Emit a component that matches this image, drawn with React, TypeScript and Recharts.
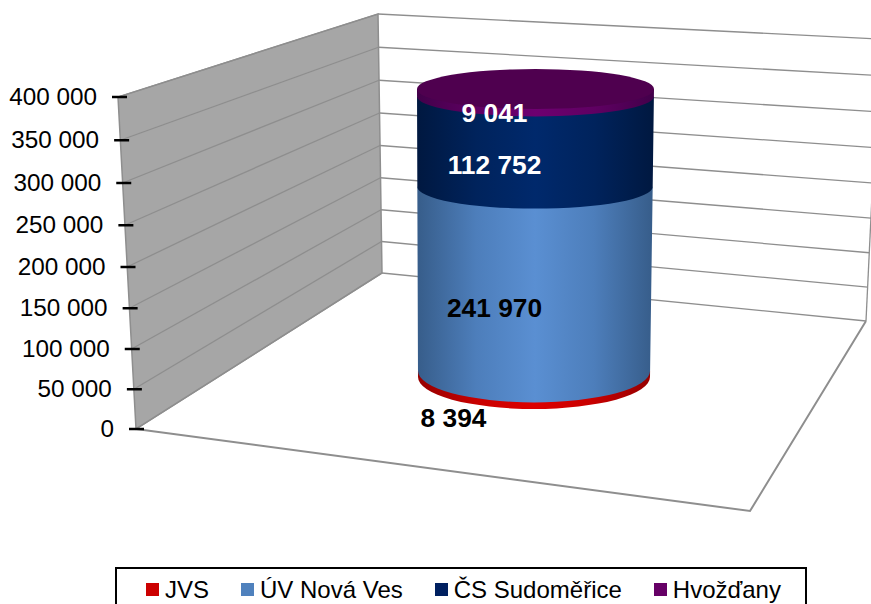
import React from "react";
import { BarChart, Bar, XAxis, YAxis, Legend, LabelList, Customized } from "recharts";

const categories = ["Celkem"];
const seriesNames = ["JVS", "ÚV Nová Ves", "ČS Sudoměřice", "Hvožďany"];
const seriesValues = [8394, 241970, 112752, 9041];
const legendColors = ["#CC0000", "#4F81BD", "#002060", "#660066"];
const edgeColors = ["#960000", "#375D8A", "#001840", "#42004A"];
const shoulderColors = ["#C80000", "#4D7EBB", "#00235C", "#5F0062"];
const centerColors = ["#DC0000", "#5A8FD2", "#00296C", "#6E0070"];
const axisTicks = [0, 50000, 100000, 150000, 200000, 250000, 300000, 350000, 400000];

const row: Record<string, string | number> = { name: categories[0] };
seriesNames.forEach((s, i) => {
  row[s] = seriesValues[i];
});
const data = [row];

const WIDTH = 871;
const HEIGHT = 604;
const PLOT_BOTTOM = 429;
const AXIS_TOP = 97; // where 400 000 sits
const AXIS_MAX = 400000;
const PLOT_MAX = 450000;
const PLOT_TOP = PLOT_BOTTOM - ((PLOT_BOTTOM - AXIS_TOP) * PLOT_MAX) / AXIS_MAX;

// the cylinder is further back than the axis, so it gets its own hidden scale
const CYL_BASE = 377;
const CYL_TOP = 89;
const total = seriesValues.reduce((a, b) => a + b, 0);
const cylPxPerUnit = (CYL_BASE - CYL_TOP) / total;
const cylMin = -(PLOT_BOTTOM - CYL_BASE) / cylPxPerUnit;
const cylMax = (CYL_BASE - PLOT_TOP) / cylPxPerUnit;

const fmt = (v: number) => String(v).replace(/\B(?=(\d{3})+$)/g, " ");
const FONT = "Liberation Sans, Arial, sans-serif";
const GRID = "#8E8E8E";

// perspective bow of a vertical scale
const bow = (t: number, k: number) => k * t * (1 - t);

function AxisTick(props: any) {
  const t = props.payload.value / AXIS_MAX;
  const y = props.y + bow(t, 16);
  const left = 129 - 17 * t;
  return (
    <g>
      <line x1={left} x2={left + 15} y1={y} y2={y} stroke="#000" strokeWidth={2.5} />
      <text x={left - 15} y={y + 8} textAnchor="end" fontFamily={FONT} fontSize={24.3} fill="#000">
        {fmt(props.payload.value)}
      </text>
    </g>
  );
}

function Walls() {
  const sideY = (t: number) => PLOT_BOTTOM - (PLOT_BOTTOM - AXIS_TOP) * t + bow(t, 16);
  const sideX = (t: number) => 136 - 18 * t;
  const cornerX = (t: number) => 382 - 4 * t;
  const cornerY = (t: number) => 273 - 259 * t + bow(t, 8);
  const farX = (t: number) => 866 + 13.5 * t;
  const farY = (t: number) => 321 - 282 * t + bow(t, 12);
  const wall = [
    [sideX(0), sideY(0)],
    [sideX(1), sideY(1)],
    [cornerX(1), cornerY(1)],
    [cornerX(0), cornerY(0)],
  ];
  return (
    <g>
      <polygon points={wall.map((p) => p.join(",")).join(" ")} fill="#A6A6A6" stroke={GRID} strokeWidth={1.5} />
      {axisTicks.map((v) => {
        const t = v / AXIS_MAX;
        return (
          <g key={v}>
            <line x1={sideX(t)} y1={sideY(t)} x2={cornerX(t)} y2={cornerY(t)} stroke={GRID} strokeWidth={1.3} />
            <line x1={cornerX(t)} y1={cornerY(t)} x2={farX(t)} y2={farY(t)} stroke={GRID} strokeWidth={1.3} />
          </g>
        );
      })}
      <line x1={farX(0)} y1={farY(0)} x2={farX(1)} y2={farY(1)} stroke={GRID} strokeWidth={1.3} />
      <polyline
        points={`${sideX(0)},${sideY(0)} 750,511 ${farX(0)},${farY(0)}`}
        fill="none"
        stroke={GRID}
        strokeWidth={2}
      />
    </g>
  );
}

function CylinderSegment(props: any) {
  const { x, y, width, height, index, last } = props;
  const warp = (py: number) => {
    const u = (CYL_BASE - py) / (CYL_BASE - CYL_TOP);
    return { y: py + bow(u, 16), u };
  };
  const edge = (py: number) => {
    const { y: wy, u } = warp(py);
    const cx = x + width / 2 - 1.5 * (1 - u);
    const hw = width / 2 - 2.5 * (1 - u);
    const ry = 20 + 12 * Math.pow(Math.max(0, 1 - u), 1.7);
    return { y: wy, l: cx - hw, r: cx + hw, hw, ry, cx };
  };
  const top = edge(y);
  const bottom = edge(y + height);
  const id = `cyl-${index}`;
  return (
    <g>
      <defs>
        <linearGradient id={id} x1="0" x2="1" y1="0" y2="0">
          <stop offset="0" stopColor={edgeColors[index]} />
          <stop offset="0.25" stopColor={shoulderColors[index]} />
          <stop offset="0.5" stopColor={centerColors[index]} />
          <stop offset="0.75" stopColor={shoulderColors[index]} />
          <stop offset="1" stopColor={edgeColors[index]} />
        </linearGradient>
      </defs>
      <path
        d={`M${top.l} ${top.y} L${bottom.l} ${bottom.y} A${bottom.hw} ${bottom.ry} 0 0 0 ${bottom.r} ${bottom.y} L${top.r} ${top.y} Z`}
        fill={`url(#${id})`}
      />
      {last && <ellipse cx={top.cx} cy={top.y} rx={top.hw} ry={top.ry} fill="#4F004F" />}
    </g>
  );
}

function SegmentLabel(props: any) {
  const { x, y, width, height, value, dx, dy, color } = props;
  return (
    <text
      x={x + width / 2 + dx}
      y={y + height / 2 + dy}
      textAnchor="middle"
      fontFamily={FONT}
      fontWeight="bold"
      fontSize={26.3}
      fill={color}
    >
      {fmt(value)}
    </text>
  );
}

const labelStyles = [
  { dx: -82, dy: 53, color: "#000" },
  { dx: -41, dy: 40, color: "#000" },
  { dx: -41, dy: 34, color: "#fff" },
  { dx: -41, dy: 30, color: "#fff" },
];

function LegendBox(props: any) {
  return (
    <div
      style={{
        boxSizing: "border-box",
        height: 45,
        border: "2px solid #000",
        display: "flex",
        alignItems: "flex-start",
        paddingLeft: 29,
        paddingTop: 7,
        gap: 32,
        fontFamily: FONT,
        fontSize: 24,
        lineHeight: "27px",
        color: "#000",
        whiteSpace: "nowrap",
      }}
    >
      {props.payload.map((p: any) => (
        <span key={p.value} style={{ display: "flex", alignItems: "center" }}>
          <span style={{ width: 13, height: 13, background: p.color, marginRight: 6 }} />
          {p.value}
        </span>
      ))}
    </div>
  );
}

export default function App() {
  return (
    <div style={{ position: "absolute", left: 0, top: 0, width: WIDTH, height: HEIGHT, overflow: "hidden", background: "#fff" }}>
      <BarChart
        width={WIDTH}
        height={HEIGHT}
        data={data}
        margin={{ top: PLOT_TOP, right: 0, bottom: HEIGHT - PLOT_BOTTOM - 45, left: 0 }}
      >
        <Customized component={Walls} />
        <XAxis dataKey="name" hide />
        <YAxis
          yAxisId="axis"
          width={200}
          domain={[0, PLOT_MAX]}
          allowDataOverflow
          ticks={axisTicks}
          interval={0}
          axisLine={false}
          tickLine={false}
          tick={(p: any) => <AxisTick {...p} />}
        />
        <YAxis yAxisId="cyl" hide domain={[cylMin, cylMax]} />
        {seriesNames.map((s, i) => (
          <Bar
            key={s}
            yAxisId="cyl"
            dataKey={s}
            name={s}
            stackId="cylinder"
            barSize={237}
            fill={legendColors[i]}
            isAnimationActive={false}
            shape={(p: any) => <CylinderSegment {...p} index={i} last={i === seriesNames.length - 1} />}
          >
            <LabelList dataKey={s} content={(p: any) => <SegmentLabel {...p} {...labelStyles[i]} />} />
          </Bar>
        ))}
        <Legend
          content={<LegendBox />}
          itemSorter={null}
          wrapperStyle={{ left: 115, top: 567, width: 692, bottom: "auto" }}
        />
      </BarChart>
    </div>
  );
}
